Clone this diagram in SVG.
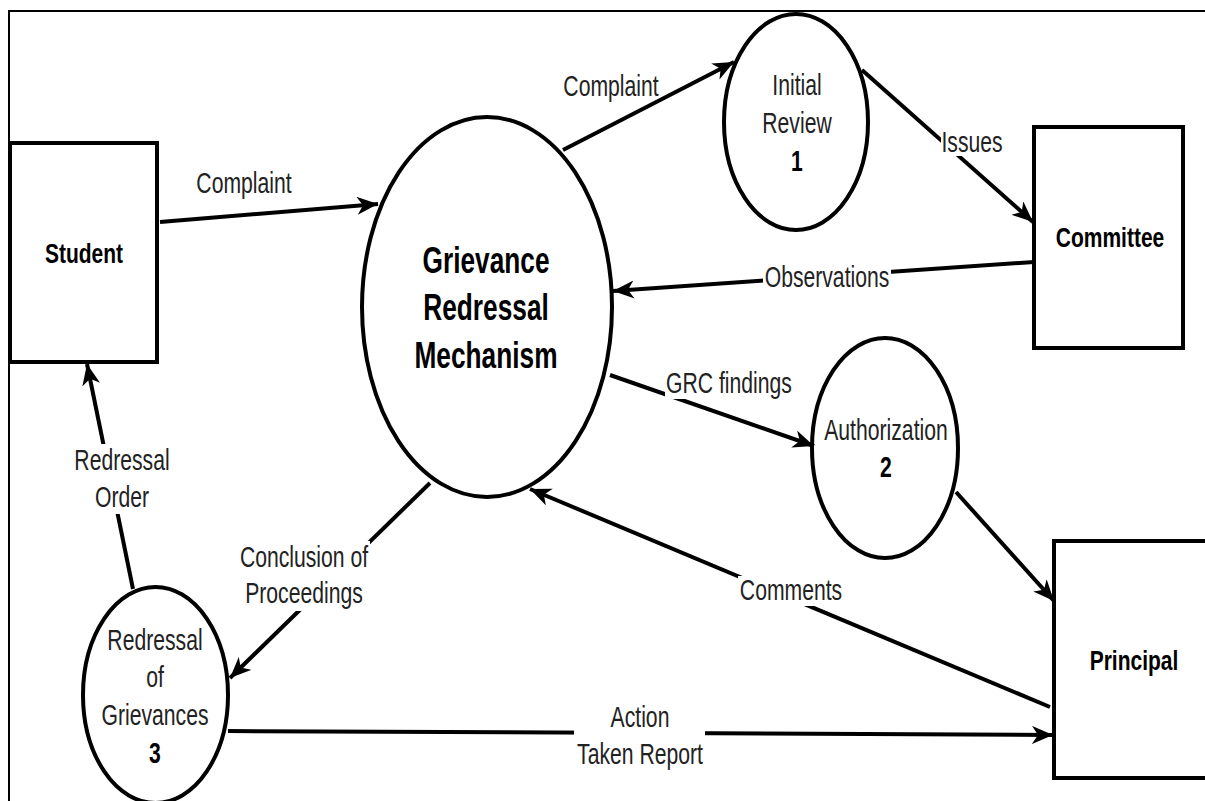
<svg xmlns="http://www.w3.org/2000/svg" width="1205" height="801" viewBox="0 0 1205 801">
<style>
.node{fill:#fff;stroke:#000;stroke-width:4}
.ent{font-family:"Liberation Sans",Arial,sans-serif;font-weight:bold;font-size:28px;text-anchor:middle;fill:#000}
.big{font-family:"Liberation Sans",Arial,sans-serif;font-weight:bold;font-size:37px;text-anchor:middle;fill:#000}
.lbl{font-family:"Liberation Sans",Arial,sans-serif;font-size:29px;text-anchor:middle;fill:#222}
.num{font-weight:bold;fill:#000}
.edge{stroke:#000;stroke-width:4;fill:none}
.arr{marker-end:url(#ah)}
.bg{fill:#fff}
.frame{stroke:#000;stroke-width:2;fill:none}
</style>
<defs>
<marker id="ah" markerUnits="userSpaceOnUse" markerWidth="24" markerHeight="20" refX="21" refY="9" orient="auto">
<path d="M0,0 L21,9 L0,18 L6,9 Z" fill="#000"/>
</marker>
</defs>
<rect width="1205" height="801" fill="#fff"/>
<path class="frame" d="M9,801 V11 H1205"/>

<g id="student">
<rect class="node" x="10" y="143" width="147" height="219"/>
<text class="ent" transform="translate(84,263) scale(0.75,1)">Student</text>
</g>
<g id="grm">
<ellipse class="node" cx="487" cy="307" rx="125" ry="190"/>
<text class="big" transform="translate(486,273) scale(0.71,1)">Grievance</text>
<text class="big" transform="translate(486,320) scale(0.71,1)">Redressal</text>
<text class="big" transform="translate(486,368) scale(0.71,1)">Mechanism</text>
</g>
<g id="initial-review">
<ellipse class="node" cx="796" cy="122" rx="72" ry="108"/>
<text class="lbl" transform="translate(797,95) scale(0.73,1)">Initial</text>
<text class="lbl" transform="translate(797,133) scale(0.73,1)">Review</text>
<text class="lbl num" transform="translate(797,171) scale(0.73,1)">1</text>
</g>
<g id="committee">
<rect class="node" x="1034" y="127" width="149" height="221"/>
<text class="ent" transform="translate(1110,247) scale(0.75,1)">Committee</text>
</g>
<g id="authorization">
<ellipse class="node" cx="885" cy="448" rx="73" ry="110"/>
<text class="lbl" transform="translate(886,440) scale(0.73,1)">Authorization</text>
<text class="lbl num" transform="translate(886,477) scale(0.73,1)">2</text>
</g>
<g id="principal">
<rect class="node" x="1054" y="541" width="160" height="237"/>
<text class="ent" transform="translate(1134,670) scale(0.75,1)">Principal</text>
</g>
<g id="redressal-of-grievances">
<ellipse class="node" cx="155.5" cy="695" rx="72.5" ry="108"/>
<text class="lbl" transform="translate(155,650) scale(0.73,1)">Redressal</text>
<text class="lbl" transform="translate(155,687) scale(0.73,1)">of</text>
<text class="lbl" transform="translate(155,725) scale(0.73,1)">Grievances</text>
<text class="lbl num" transform="translate(155,763) scale(0.73,1)">3</text>
</g>

<g id="connectors">
<line class="edge arr" x1="160" y1="222" x2="378" y2="204"/>
<line class="edge arr" x1="563" y1="150" x2="734" y2="62"/>
<line class="edge arr" x1="862" y1="70" x2="1033" y2="222"/>
<line class="edge arr" x1="1034" y1="262" x2="613" y2="291"/>
<line class="edge arr" x1="610" y1="375" x2="814" y2="446"/>
<line class="edge arr" x1="956" y1="492" x2="1054" y2="601"/>
<line class="edge arr" x1="1050" y1="707" x2="530" y2="489"/>
<line class="edge arr" x1="430" y1="483" x2="230" y2="678"/>
<line class="edge arr" x1="228" y1="731" x2="1053" y2="735"/>
<line class="edge arr" x1="133" y1="589" x2="87" y2="364"/>

<text class="lbl" transform="translate(244,193) scale(0.73,1)">Complaint</text>
<text class="lbl" transform="translate(611,96) scale(0.73,1)">Complaint</text>
<rect class="bg" x="941" y="128" width="63" height="28"/>
<text class="lbl" transform="translate(972,152) scale(0.73,1)">Issues</text>
<rect class="bg" x="763" y="264" width="128" height="28"/>
<text class="lbl" transform="translate(827,287) scale(0.73,1)">Observations</text>
<rect class="bg" x="665" y="369" width="129" height="30"/>
<text class="lbl" transform="translate(729,393) scale(0.73,1)">GRC findings</text>
<rect class="bg" x="738" y="576" width="106" height="30"/>
<text class="lbl" transform="translate(791,600) scale(0.73,1)">Comments</text>
<rect class="bg" x="74" y="444" width="97" height="70"/>
<text class="lbl" transform="translate(122,470) scale(0.73,1)">Redressal</text>
<text class="lbl" transform="translate(122,507) scale(0.73,1)">Order</text>
<rect class="bg" x="238" y="541" width="132" height="70"/>
<text class="lbl" transform="translate(304,567) scale(0.73,1)">Conclusion of</text>
<text class="lbl" transform="translate(304,603) scale(0.73,1)">Proceedings</text>
<rect class="bg" x="574" y="701" width="131" height="62"/>
<text class="lbl" transform="translate(640,727) scale(0.73,1)">Action</text>
<text class="lbl" transform="translate(640,764) scale(0.73,1)">Taken Report</text>
</g>
</svg>
